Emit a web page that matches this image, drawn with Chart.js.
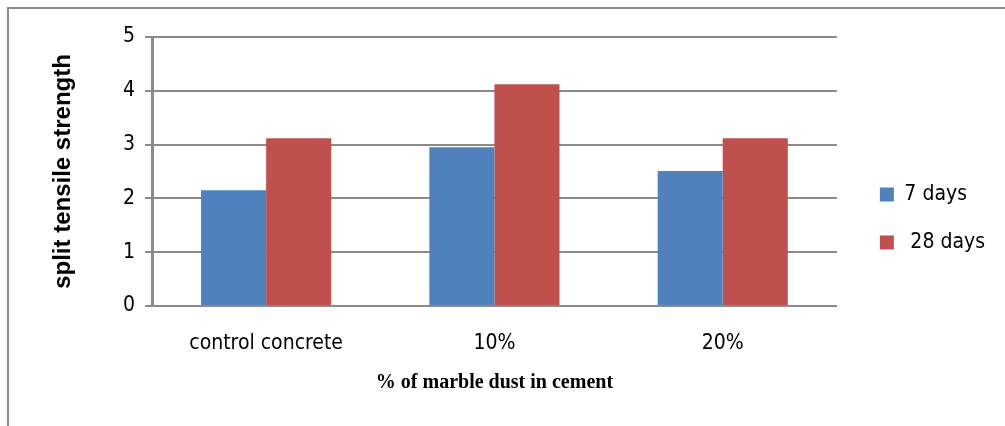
<!DOCTYPE html>
<html>
<head>
<meta charset="utf-8">
<script src="https://cdn.jsdelivr.net/npm/chart.js@4"></script>
<style>
  body { margin: 0; background: #fff; }
  #wrap { position: relative; width: 1005px; height: 426px; overflow: hidden; }
  #frame { position: absolute; left: 7px; top: 7px; width: 1100px; height: 500px;
           border-top: 2px solid #8a8a8a; border-left: 2px solid #8a8a8a; pointer-events: none; }
</style>
</head>
<body>
<div id="wrap">
  <canvas id="strengthChart" width="1005" height="426"></canvas>
  <div id="frame"></div>
</div>
<script>
// split tensile strength vs marble dust replacement
const categories = ["control concrete", "10%", "20%"];
const days7 = [2.15, 2.95, 2.51];
const days28 = [3.12, 4.12, 3.12];
const yTicks = [0, 1, 2, 3, 4, 5];

const gridGray = "#8a8a8a";
const narrow = "'DejaVu Sans Condensed', 'Liberation Sans Narrow', 'Liberation Sans', sans-serif";

// nudge legend block into place (Excel puts it a bit away from the plot)
const legendNudge = {
  id: "legendNudge",
  afterLayout(chart) {
    const lg = chart.legend;
    lg.left += 16; lg.right += 16;
    lg.top -= 13; lg.bottom -= 13;
  }
};

const ctx = document.getElementById("strengthChart");

new Chart(ctx, {
  type: "bar",
  data: {
    labels: categories,
    datasets: [
      { label: "7 days", data: days7, backgroundColor: "#4f81bd" },
      { label: " 28 days", data: days28, backgroundColor: "#c0504d" }
    ]
  },
  options: {
    responsive: false,
    animation: false,
    layout: { padding: { top: 37, right: 26, bottom: 0, left: 0 } },
    datasets: {
      bar: { categoryPercentage: 0.57, barPercentage: 1.0 }
    },
    scales: {
      x: {
        grid: { display: false },
        border: { display: true, color: gridGray, width: 2 },
        ticks: { color: "#000", padding: 17, font: { family: narrow, size: 21 } },
        title: {
          display: true,
          text: "% of marble dust in cement",
          color: "#000",
          padding: { top: 0, bottom: 31 },
          font: { family: "'Liberation Serif', 'Times New Roman', serif", size: 20, weight: "bold" }
        },
        afterFit: (scale) => { scale.height = 120; }
      },
      y: {
        min: 0,
        max: 5,
        afterBuildTicks: (scale) => { scale.ticks = yTicks.map(v => ({ value: v })); },
        grid: { color: gridGray, lineWidth: 2, tickLength: 7, drawTicks: true },
        border: { display: true, color: gridGray, width: 3 },
        ticks: { color: "#000", padding: 10, font: { family: narrow, size: 21 } },
        title: {
          display: true,
          text: "split tensile strength",
          color: "#000",
          padding: { top: 49, bottom: 0 },
          font: { family: "'Liberation Sans', Arial, sans-serif", size: 24, weight: "bold" }
        },
        afterFit: (scale) => { scale.width = 152; }
      }
    },
    plugins: {
      legend: {
        position: "right",
        labels: {
          color: "#000",
          boxWidth: 14,
          boxHeight: 14,
          padding: 27,
          font: { family: narrow, size: 21 }
        }
      },
      tooltip: { enabled: false }
    }
  },
  plugins: [legendNudge]
});
</script>
</body>
</html>
